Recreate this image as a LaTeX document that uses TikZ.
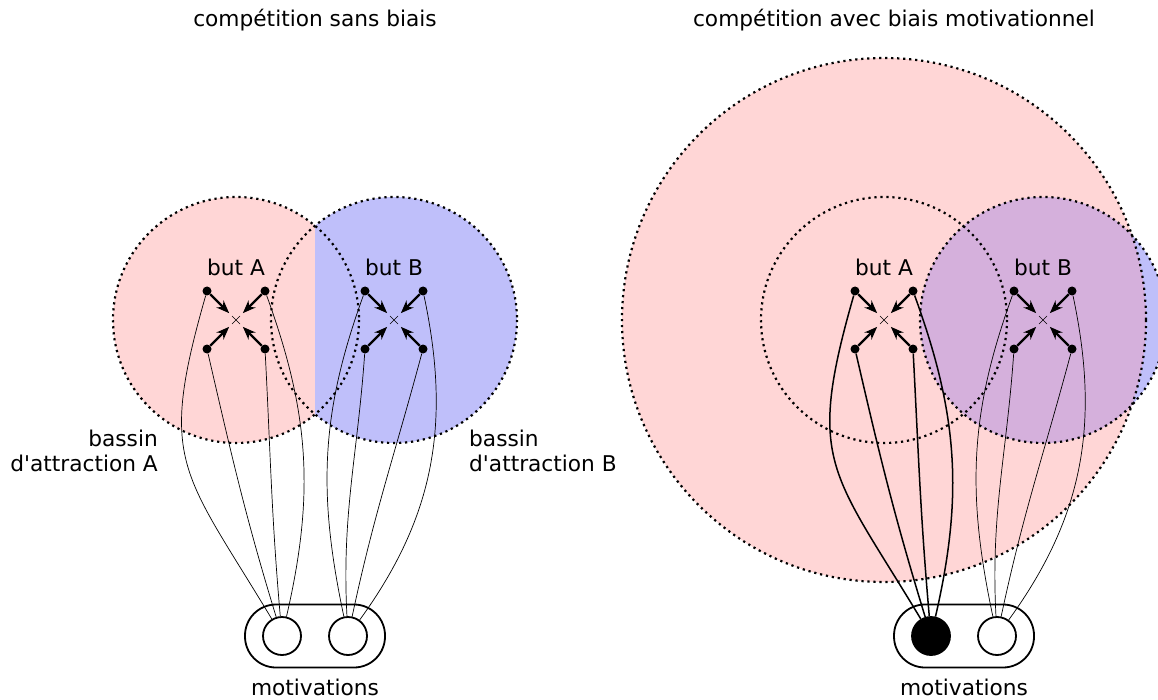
\documentclass[tikz,border=0pt]{standalone}
\usepackage{fontspec}
\setmainfont{DejaVu Sans}
\usetikzlibrary{arrows.meta, positioning, shapes.misc}

\definecolor{basinA}{RGB}{255,214,214}
\definecolor{basinB}{RGB}{191,191,250}
\definecolor{basinAB}{RGB}{213,176,220}

\begin{document}
\begin{tikzpicture}[
        x = 1pt, y = -1pt, node distance = 29pt, on grid,
        font = \fontsize{21.7}{25}\selectfont,
        >= {Stealth[length = 13pt, width = 10pt]},
        basin/.style = {line width = 2.2pt, dash pattern = on 2.2pt off 3.8pt},
        goal/.style = {cross out, draw, line width = 0.5pt, inner sep = 0pt, minimum size = 7.5pt},
        tip/.style = {circle, fill, inner sep = 0pt, minimum size = 9pt},
        push/.style = {->, line width = 2.2pt, shorten >= 4pt},
        link/.style = {line width = 0.7pt},
        strong/.style = {line width = 1.5pt},
        motive/.style = {circle, draw, line width = 1.8pt, minimum size = 38pt, inner sep = 0pt},
        pool/.style = {draw, line width = 1.8pt, rounded corners = 31pt, minimum width = 140pt, minimum height = 63pt}
    ]
      \clip (0,0) rectangle (1158,700);

      % centres des buts
      \coordinate (cA) at (236,320);
      \coordinate (cB) at (394,320);
      \coordinate (cA2) at (884,320);
      \coordinate (cB2) at (1043,320);

      % bassins, sans biais
      \begin{scope}
        \clip (0,0) rectangle (315,700);
        \fill[basinA] (cA) circle[radius = 123] (cB) circle[radius = 123];
      \end{scope}
      \begin{scope}
        \clip (315,0) rectangle (600,700);
        \fill[basinB] (cA) circle[radius = 123] (cB) circle[radius = 123];
      \end{scope}
      \draw[basin] (cA) circle[radius = 123] (cB) circle[radius = 123];

      % bassins, avec biais
      \fill[basinA] (cA2) circle[radius = 262];
      \fill[basinB] (cB2) circle[radius = 123];
      \begin{scope}
        \clip (cA2) circle[radius = 262];
        \fill[basinAB] (cB2) circle[radius = 123];
      \end{scope}
      \draw[basin] (cA2) circle[radius = 262] (cA2) circle[radius = 123] (cB2) circle[radius = 123];

      % titres
      \node (t1) at (315,20) {compétition sans biais};
      \node (t2) at (894,20) {compétition avec biais motivationnel};

      % sans biais
      \node[goal] (gA) at (cA) {};
      \node[goal] (gB) at (cB) {};
      \node (lA) [above = 53pt of gA] {but A};
      \node (lB) [above = 53pt of gB] {but B};
      \node[tip] (a1) [above left = 29pt and 29pt of gA] {};
      \node[tip] (a2) [above right = 29pt and 29pt of gA] {};
      \node[tip] (a3) [below left = 29pt and 29pt of gA] {};
      \node[tip] (a4) [below right = 29pt and 29pt of gA] {};
      \node[tip] (b1) [above left = 29pt and 29pt of gB] {};
      \node[tip] (b2) [above right = 29pt and 29pt of gB] {};
      \node[tip] (b3) [below left = 29pt and 29pt of gB] {};
      \node[tip] (b4) [below right = 29pt and 29pt of gB] {};
      \node[pool] (p1) at (315,636) {};
      \node[motive] (mA) [left = 33pt of p1] {};
      \node[motive] (mB) [right = 33pt of p1] {};
      \node (m1) [below = 51pt of p1] {motivations};
      \node[inner sep = 0pt, align = right, anchor = east] (bA) at (158,451) {bassin\\d\textquotesingle attraction A};
      \node[inner sep = 0pt, align = left, anchor = west] (bB) at (469,451) {bassin\\d\textquotesingle attraction B};

      \path[push]
        (a1) edge (gA) (a2) edge (gA) (a3) edge (gA) (a4) edge (gA)
        (b1) edge (gB) (b2) edge (gB) (b3) edge (gB) (b4) edge (gB);

      \path[link]
        (a1) edge [out = -106, in = 121, looseness = 1.35] (mA)
        (a2) edge [out = -70, in = 77] (mA)
        (a3) edge [out = -77, in = 107] (mA)
        (a4) edge [out = -87, in = 95] (mA)
        (b1) edge [out = -110, in = 102] (mB)
        (b2) edge [out = -78, in = 54] (mB)
        (b3) edge [out = -94, in = 93] (mB)
        (b4) edge [out = -105, in = 78] (mB);

      % avec biais
      \node[goal] (gA2) at (cA2) {};
      \node[goal] (gB2) at (cB2) {};
      \node (lA2) [above = 53pt of gA2] {but A};
      \node (lB2) [above = 53pt of gB2] {but B};
      \node[tip] (c1) [above left = 29pt and 29pt of gA2] {};
      \node[tip] (c2) [above right = 29pt and 29pt of gA2] {};
      \node[tip] (c3) [below left = 29pt and 29pt of gA2] {};
      \node[tip] (c4) [below right = 29pt and 29pt of gA2] {};
      \node[tip] (d1) [above left = 29pt and 29pt of gB2] {};
      \node[tip] (d2) [above right = 29pt and 29pt of gB2] {};
      \node[tip] (d3) [below left = 29pt and 29pt of gB2] {};
      \node[tip] (d4) [below right = 29pt and 29pt of gB2] {};
      \node[pool] (p2) at (964,636) {};
      \node[motive, fill] (mA2) [left = 33pt of p2] {};
      \node[motive] (mB2) [right = 33pt of p2] {};
      \node (m2) [below = 51pt of p2] {motivations};

      \path[push]
        (c1) edge (gA2) (c2) edge (gA2) (c3) edge (gA2) (c4) edge (gA2)
        (d1) edge (gB2) (d2) edge (gB2) (d3) edge (gB2) (d4) edge (gB2);

      \path[strong]
        (c1) edge [out = -106, in = 121, looseness = 1.35] (mA2)
        (c2) edge [out = -70, in = 77] (mA2)
        (c3) edge [out = -77, in = 107] (mA2)
        (c4) edge [out = -87, in = 95] (mA2);
      \path[link]
        (d1) edge [out = -110, in = 102] (mB2)
        (d2) edge [out = -78, in = 54] (mB2)
        (d3) edge [out = -94, in = 93] (mB2)
        (d4) edge [out = -105, in = 78] (mB2);
    \end{tikzpicture}
\end{document}
